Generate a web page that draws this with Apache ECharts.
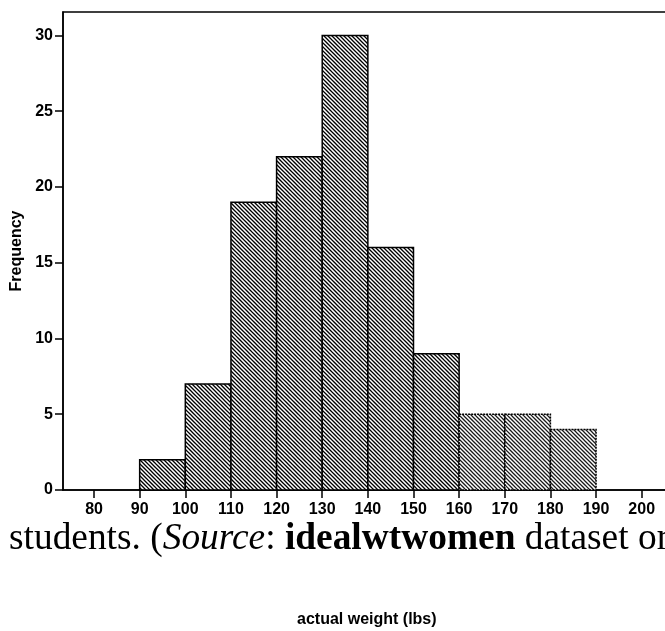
<!DOCTYPE html>
<html>
<head>
<meta charset="utf-8">
<style>
html,body{margin:0;padding:0;background:#fff;}
#chart{width:665px;height:631px;}
</style>
<script src="https://cdn.jsdelivr.net/npm/echarts@6/dist/echarts.min.js"></script>
</head>
<body>
<div id="chart"></div>
<script>
// ---- data ----
var binStarts = [90, 100, 110, 120, 130, 140, 150, 160, 170, 180];
var binEnds   = [100, 110, 120, 130, 140, 150, 160, 170, 180, 190];
var frequencies = [2, 7, 19, 22, 30, 16, 9, 5, 5, 4];
var xTickValues = [80, 90, 100, 110, 120, 130, 140, 150, 160, 170, 180, 190, 200];
var yTickValues = [0, 5, 10, 15, 20, 25, 30];
var xAxisTitle = 'actual weight (lbs)';
var yAxisTitle = 'Frequency';
var captionParts = ['students. (', 'Source', ': ', 'idealwtwomen', ' dataset or'];

function makeHatch(color, lw) {
  var s = 8;
  var c = document.createElement('canvas');
  c.width = s; c.height = s;
  var ctx = c.getContext('2d');
  ctx.fillStyle = '#fff';
  ctx.fillRect(0, 0, s, s);
  ctx.strokeStyle = color;
  ctx.lineWidth = lw;
  var offs = [-8, -4, 0, 4, 8];
  offs.forEach(function (o) {
    ctx.beginPath();
    ctx.moveTo(o - 1, -1);
    ctx.lineTo(o + s + 1, s + 1);
    ctx.stroke();
  });
  return c;
}
var hatchA = makeHatch('#000', 1.3);
var hatchB = makeHatch('#1a1a1a', 1.25);

var seriesData = binStarts.map(function (s, i) {
  return [s, binEnds[i], frequencies[i]];
});

var chart = echarts.init(document.getElementById('chart'));
var labelFont = {fontFamily: 'Liberation Sans, Arial, sans-serif', fontWeight: 'bold', fontSize: 16, color: '#000'};

chart.setOption({
  animation: false,
  backgroundColor: '#fff',
  grid: {left: 63, width: 612, top: 12, bottom: 141, show: true, borderColor: '#000', borderWidth: 1.5,
         outerBoundsMode: 'none', containLabel: false},
  xAxis: {
    type: 'value', min: 73.2, max: 207.3,
    axisLine: {show: true, onZero: false, lineStyle: {color: '#000', width: 1.5}},
    axisTick: {show: true, length: 8, lineStyle: {color: '#000', width: 1.5}, customValues: xTickValues},
    axisLabel: Object.assign({margin: 12, customValues: xTickValues}, labelFont),
    splitLine: {show: false}
  },
  yAxis: {
    type: 'value', min: 0, max: 31.55,
    name: yAxisTitle, nameLocation: 'middle', nameGap: 37, nameRotate: 90,
    nameTextStyle: labelFont,
    axisLine: {show: true, lineStyle: {color: '#000', width: 1.5}},
    axisTick: {show: true, length: 8, lineStyle: {color: '#000', width: 1.5}, customValues: yTickValues},
    axisLabel: Object.assign({margin: 10, customValues: yTickValues}, labelFont),
    splitLine: {show: false}
  },
  graphic: [
    {
      type: 'text', left: 297, top: 612, z: 100,
      style: {text: xAxisTitle, fill: '#000', font: 'bold 16px "Liberation Sans", Arial, sans-serif'}
    },
    {
      type: 'text', x: 9, y: 520.5, z: 100,
      style: {
        text: '{n|' + captionParts[0] + '}{i|' + captionParts[1] + '}{n|' + captionParts[2] + '}{b|' + captionParts[3] + '}{n|' + captionParts[4] + '}',
        rich: {
          n: {fontFamily: 'Liberation Serif, Times New Roman, serif', fontSize: 37.4, color: '#000'},
          i: {fontFamily: 'Liberation Serif, Times New Roman, serif', fontSize: 37.4, fontStyle: 'italic', color: '#000'},
          b: {fontFamily: 'Liberation Serif, Times New Roman, serif', fontSize: 37.4, fontWeight: 'bold', color: '#000'}
        }
      }
    }
  ],
  series: [{
    type: 'custom',
    data: seriesData,
    encode: {x: [0, 1], y: 2},
    renderItem: function (params, api) {
      var p0 = api.coord([api.value(0), 0]);
      var p1 = api.coord([api.value(1), api.value(2)]);
      var later = api.value(0) >= 160;
      return {
        type: 'rect',
        shape: {x: p0[0], y: p1[1], width: p1[0] - p0[0], height: p0[1] - p1[1]},
        style: {
          fill: {image: later ? hatchB : hatchA, repeat: 'repeat'},
          stroke: '#000',
          lineWidth: 1.5,
          lineDash: later ? [2, 1] : null
        }
      };
    }
  }]
});
</script>
</body>
</html>
